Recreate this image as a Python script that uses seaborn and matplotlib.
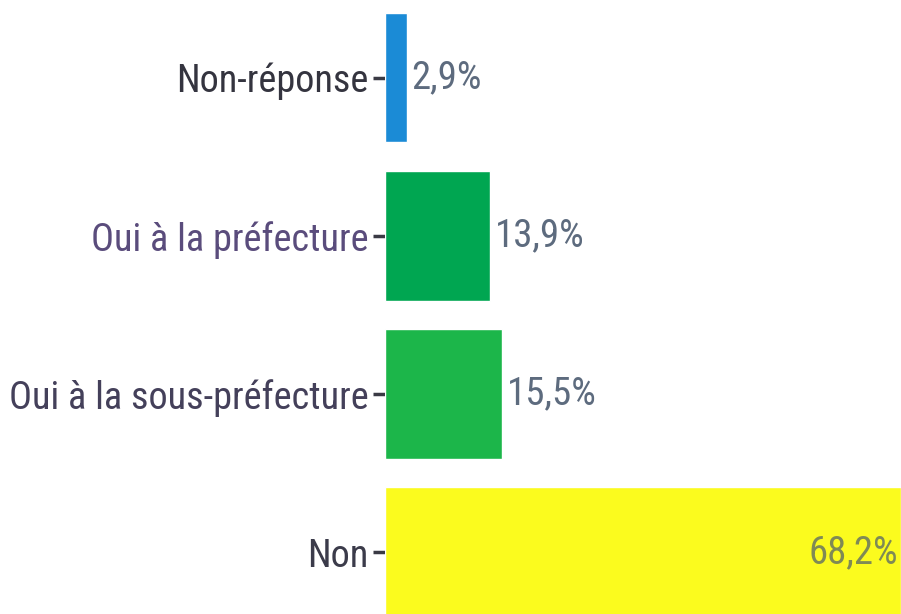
import matplotlib
matplotlib.use("Agg")
import matplotlib.pyplot as plt
from matplotlib import font_manager
import seaborn as sns
import pandas as pd

# data
categories = ["Non-réponse", "Oui à la préfecture", "Oui à la sous-préfecture", "Non"]
values = [2.9, 13.9, 15.5, 68.2]
value_labels = ["2,9%", "13,9%", "15,5%", "68,2%"]
bar_colors = ["#1b8bd6", "#00a651", "#1cb64a", "#fbfb1e"]
label_colors = ["#34343f", "#5a4c7c", "#44405a", "#3b3b4a"]

df = pd.DataFrame({"cat": categories, "val": values})

sns.set_theme(style="white")

# the scan uses a very condensed face; take a narrow one if there is any
fonts = font_manager.fontManager.ttflist
names = {f.name for f in fonts}
stretch = "normal"
family = "Liberation Sans"
cat_size, val_size = 24, 22.5
for cand in ["Liberation Sans Narrow", "Roboto Condensed", "Open Sans Condensed",
             "DejaVu Sans Condensed"]:
    if cand in names:
        family = cand
        cat_size, val_size = 27.5, 28
        break
else:
    cond = [f for f in fonts if f.name in ("DejaVu Sans", "Open Sans", "Roboto")
            and str(f.stretch) in ("condensed", "semi-condensed", "500", "375", "400")]
    if cond:
        family = cond[0].name
        stretch = "condensed"
        cat_size, val_size = 25, 24

plt.rcParams["font.family"] = [family, "DejaVu Sans"]
plt.rcParams["font.stretch"] = stretch

fig = plt.figure(figsize=(9.01, 6.14), dpi=100)
ax = fig.add_axes([385 / 901, 0, 1 - 385 / 901, 1])

sns.barplot(data=df, y="cat", x="val", hue="cat", palette=bar_colors,
            order=categories, width=0.82, legend=False, ax=ax, saturation=1)

ax.set_xlim(0, 68.2)
ax.set_ylim(3.39, -0.49)
ax.set_xlabel("")
ax.set_ylabel("")
ax.set_xticks([])
sns.despine(ax=ax, left=True, bottom=True)

ax.tick_params(axis="y", length=9, width=2.5, color="#3a3a44", pad=3,
               labelsize=cat_size, left=True)
for tick, c in zip(ax.get_yticklabels(), label_colors):
    tick.set_color(c)

for i, (v, lab) in enumerate(zip(values, value_labels)):
    if v > 50:
        ax.text(v - 0.4, i, lab, ha="right", va="center", fontsize=val_size, color="#7f8a55")
    else:
        ax.text(v + 0.6, i, lab, ha="left", va="center", fontsize=val_size, color="#5d6b7e")

fig.savefig("out.png", dpi=100)
